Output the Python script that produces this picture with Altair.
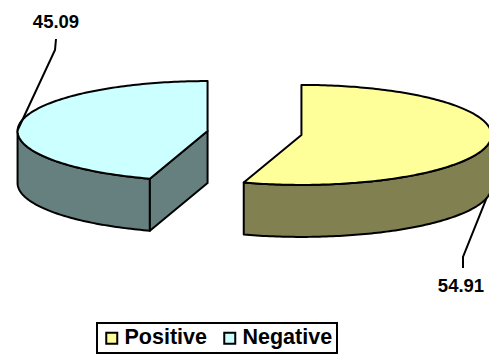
import math
import altair as alt
import pandas as pd

# ---- data ----
categories = ["Positive", "Negative"]
values = [54.91, 45.09]
label_texts = ["54.91", "45.09"]

# ---- styles ----
top_colors = ["#FFFF99", "#CCFFFF"]
side_colors = ["#808050", "#668080"]

# ---- layout of the 3D pie (pixels of the 489x359 canvas) ----
W, H = 489, 359
CX, CY = 254.5, 133.0      # pie centre before explosion
RX, RY = 190.0, 50.0       # ellipse radii of the top face
DEPTH = 52.0               # thickness of the pie
EXPLODE = 0.25             # explosion as fraction of radius

# label layout: (rim angle where leader starts, on bottom rim?, elbow, end, text pos)
label_layout = {
    "Positive": dict(start_angle=103, bottom=True, elbow=(463, 257), end=(463, 268), text=(461, 292)),
    "Negative": dict(start_angle=271, bottom=False, elbow=(55, 50), end=(56, 39), text=(56, 28)),
}


def rim(cx, cy, a, dz=0.0):
    r = math.radians(a)
    return [cx + RX * math.sin(r), cy - RY * math.cos(r) + dz]


total = sum(values)
slices = []
start = 0.0
for cat, v in zip(categories, values):
    end = start + 360.0 * v / total
    mid = math.radians((start + end) / 2)
    cx = CX + EXPLODE * RX * math.sin(mid)
    cy = CY - EXPLODE * RY * math.cos(mid)
    slices.append(dict(cat=cat, a0=start, a1=end, cx=cx, cy=cy))
    start = end


def arc_angles(a0, a1):
    n = max(2, int(abs(a1 - a0)) + 1)
    return [a0 + (a1 - a0) * i / (n - 1) for i in range(n)]


def feature(cat, ring):
    ring = ring + [ring[0]]
    return {"type": "Feature", "properties": {"category": cat},
            "geometry": {"type": "Polygon", "coordinates": [ring]}}


side_feats, top_feats = [], []
for s in slices:
    cx, cy, a0, a1 = s["cx"], s["cy"], s["a0"], s["a1"]
    # visible outer wall: front half of the ellipse (90..270 deg)
    lo, hi = max(a0, 90.0), min(a1, 270.0)
    if hi > lo:
        angs = arc_angles(lo, hi)
        ring = [rim(cx, cy, a) for a in angs] + [rim(cx, cy, a, DEPTH) for a in reversed(angs)]
        side_feats.append(feature(s["cat"], ring))
    # visible radial face at the start angle if it faces the viewer
    if 180.0 < a0 < 360.0:
        p = rim(cx, cy, a0)
        ring = [[cx, cy], p, [p[0], p[1] + DEPTH], [cx, cy + DEPTH]]
        side_feats.append(feature(s["cat"], ring))
    # top face
    ring = [[cx, cy]] + [rim(cx, cy, a) for a in arc_angles(a0, a1)]
    top_feats.append(feature(s["cat"], ring))

# leader lines and labels
line_rows, text_rows = [], []
for s, txt in zip(slices, label_texts):
    lay = label_layout[s["cat"]]
    p0 = rim(s["cx"], s["cy"], lay["start_angle"], DEPTH if lay["bottom"] else 0.0)
    for i, p in enumerate([p0, list(lay["elbow"]), list(lay["end"])]):
        line_rows.append(dict(cat=s["cat"], i=i, lon=p[0], lat=p[1]))
    text_rows.append(dict(cat=s["cat"], label=txt, lon=lay["text"][0], lat=lay["text"][1]))

lines_df = pd.DataFrame(line_rows)
text_df = pd.DataFrame(text_rows)

proj = alt.Projection(type="identity", scale=1, translate=[0, 0])

sides = alt.Chart(alt.Data(values=side_feats)).mark_geoshape(
    stroke="black", strokeWidth=2, strokeJoin="round", opacity=1
).encode(
    color=alt.Color("properties.category:N",
                    scale=alt.Scale(domain=categories, range=side_colors), legend=None)
).project(**proj.to_dict())

tops = alt.Chart(alt.Data(values=top_feats)).mark_geoshape(
    stroke="black", strokeWidth=2, strokeJoin="round", opacity=1
).encode(
    color=alt.Color(
        "properties.category:N",
        scale=alt.Scale(domain=categories, range=top_colors),
        legend=alt.Legend(
            orient="none", legendX=97, legendY=323, direction="horizontal", title=None,
            symbolType="square", symbolSize=121, symbolStrokeColor="black",
            symbolStrokeWidth=2, symbolOpacity=1,
            labelFontSize=21.5, labelFontWeight="bold", labelFont="Liberation Sans",
            labelColor="black", labelOffset=2, columnPadding=12,
            strokeColor="black", padding=4,
        ),
    )
).project(**proj.to_dict())

leaders = alt.Chart(lines_df).mark_line(color="black", strokeWidth=2).encode(
    longitude="lon:Q", latitude="lat:Q", detail="cat:N", order="i:Q"
).project(**proj.to_dict())

labels = alt.Chart(text_df).mark_text(
    font="Liberation Sans", fontSize=18.5, fontWeight="bold", color="black",
    align="center", baseline="alphabetic"
).encode(
    longitude="lon:Q", latitude="lat:Q", text="label:N"
).project(**proj.to_dict())

chart = alt.layer(sides, tops, leaders, labels).resolve_scale(
    color="independent"
).properties(
    width=W, height=H, autosize=alt.AutoSizeParams(type="none"), padding=0,
    background="white"
).configure_view(stroke=None).configure_legend(strokeWidth=2)

chart.save("out.html", embed_options={"renderer": "svg", "actions": False})
